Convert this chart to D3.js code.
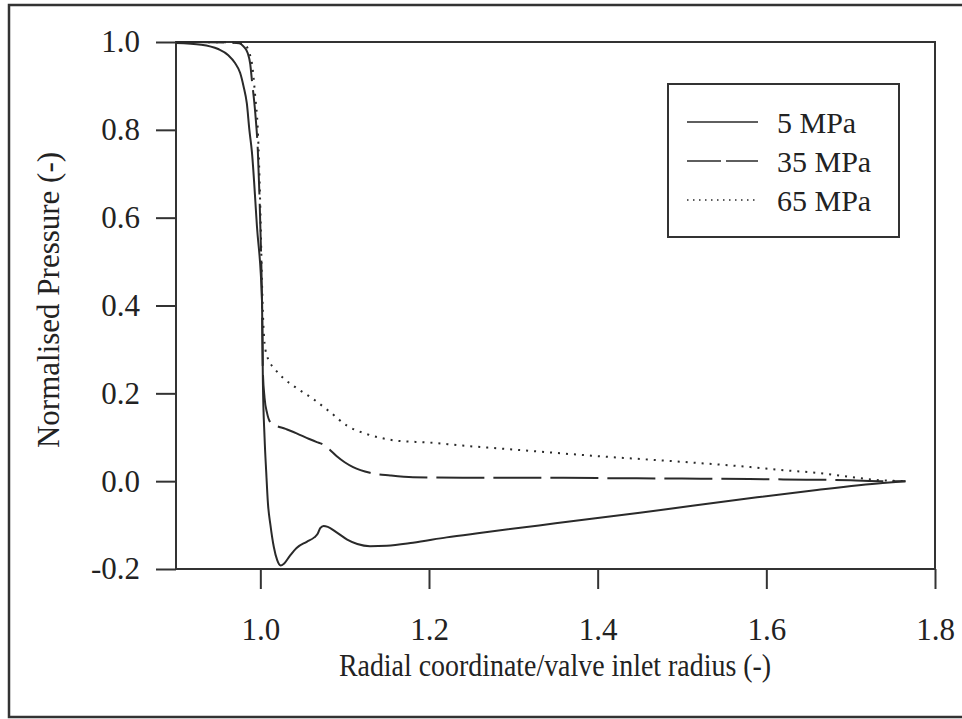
<!doctype html>
<html>
<head>
<meta charset="utf-8">
<title>Normalised pressure</title>
<script src="https://cdn.jsdelivr.net/npm/d3@7"></script>
<style>
  body { margin: 0; background: #fff; }
  svg { display: block; }
  text { font-family: "Liberation Serif", "Times New Roman", serif; fill: #222; }
  .axis line { stroke: #333; stroke-width: 2px; }
  .axis path { display: none; }
  .curve { fill: none; stroke: #2a2a2a; stroke-width: 2px; }
</style>
</head>
<body>
<script>
// x tick values and y tick values
var xTicks = [1.0, 1.2, 1.4, 1.6, 1.8];
var yTicks = [-0.2, 0.0, 0.2, 0.4, 0.6, 0.8, 1.0];
var seriesNames = ["5 MPa", "35 MPa", "65 MPa"];

// 5 MPa (solid)
var p5 = [[0.900,0.998],[0.930,0.994],[0.950,0.984],[0.962,0.970],[0.970,0.952],[0.976,0.93],[0.980,0.90],
  [0.984,0.86],[0.987,0.80],[0.990,0.75],[0.996,0.58],[1.002,0.41],[1.003,0.23],[1.005,0.10],[1.007,0.02],
  [1.009,-0.05],[1.012,-0.10],[1.016,-0.15],[1.020,-0.180],[1.024,-0.192],[1.028,-0.188],[1.035,-0.170],
  [1.043,-0.152],[1.055,-0.138],[1.064,-0.128],[1.068,-0.120],[1.071,-0.107],[1.075,-0.102],[1.080,-0.104],
  [1.090,-0.116],[1.103,-0.133],[1.115,-0.143],[1.130,-0.148],[1.150,-0.147],[1.181,-0.140],[1.221,-0.128],
  [1.260,-0.118],[1.350,-0.096],[1.450,-0.072],[1.580,-0.039],[1.660,-0.020],[1.738,-0.004],[1.765,0.0]];

// 35 MPa (dashed)
var p35 = [[0.900,1.0],[0.960,0.999],[0.975,0.997],[0.980,0.99],[0.985,0.975],[0.988,0.95],[0.990,0.913],
  [0.994,0.838],[0.997,0.754],[1.000,0.58],[1.002,0.41],[1.003,0.25],[1.005,0.19],[1.008,0.155],[1.0115,0.135],
  [1.015,0.130],[1.030,0.119],[1.043,0.109],[1.058,0.096],[1.067,0.089],[1.073,0.085],[1.082,0.072],
  [1.091,0.056],[1.100,0.043],[1.110,0.032],[1.130,0.019],[1.154,0.013],[1.181,0.009],[1.240,0.008],
  [1.300,0.008],[1.400,0.007],[1.500,0.006],[1.580,0.005],[1.620,0.004],[1.700,0.002],[1.738,0.0],[1.765,0.0]];

// 65 MPa (dotted)
var p65 = [[0.900,1.0],[0.970,0.999],[0.982,0.993],[0.987,0.975],[0.990,0.952],[0.994,0.875],[0.997,0.8],
  [1.000,0.62],[1.002,0.45],[1.004,0.34],[1.006,0.30],[1.010,0.275],[1.016,0.258],[1.027,0.235],[1.043,0.212],
  [1.062,0.188],[1.083,0.157],[1.103,0.126],[1.122,0.110],[1.142,0.099],[1.162,0.092],[1.200,0.088],
  [1.240,0.081],[1.300,0.072],[1.400,0.057],[1.500,0.044],[1.581,0.032],[1.620,0.025],[1.660,0.019],
  [1.699,0.010],[1.729,0.003],[1.765,0.0]];

var W = 962, H = 719;
var serif = "'Liberation Serif', 'Times New Roman', serif";
var margin = { top: 42, right: 27, bottom: 150, left: 176 },
    width = W - margin.left - margin.right,
    height = H - margin.top - margin.bottom;

var svg = d3.select("body").append("svg")
    .attr("width", W)
    .attr("height", H)
    .attr("font-family", serif);

// outer figure border
svg.append("rect")
    .attr("x", 9).attr("y", 5)
    .attr("width", W).attr("height", 712)
    .attr("fill", "none").attr("stroke", "#333").attr("stroke-width", 2.5);

var g = svg.append("g")
    .attr("transform", "translate(" + margin.left + "," + margin.top + ")");

var x = d3.scaleLinear().domain([0.9, 1.8]).range([0, width]);
var y = d3.scaleLinear().domain([-0.2, 1.0]).range([height, 0]);

var fmt = function(d) { return d3.format(".1f")(d).replace("\u2212", "-"); };

var xAxis = g.append("g")
    .attr("class", "x axis")
    .attr("transform", "translate(0," + height + ")")
    .call(d3.axisBottom(x).tickValues(xTicks).tickSize(20).tickSizeOuter(0).tickPadding(29).tickFormat(fmt))
    .attr("font-family", serif).attr("font-size", 31);
xAxis.selectAll("text").attr("fill", "#222");

var yAxis = g.append("g")
    .attr("class", "y axis")
    .call(d3.axisLeft(y).tickValues(yTicks).tickSize(20).tickSizeOuter(0).tickPadding(16).tickFormat(fmt))
    .attr("font-family", serif).attr("font-size", 31);
yAxis.selectAll("text").attr("fill", "#222");

// plot frame
g.append("rect")
    .attr("width", width).attr("height", height)
    .attr("fill", "none").attr("stroke", "#333").attr("stroke-width", 2);

var line = d3.line()
    .x(function(d) { return x(d[0]); })
    .y(function(d) { return y(d[1]); })
    .curve(d3.curveMonotoneX);

var dashes = [null, "48,9", "2,6"];
var widths = [2, 2, 2.2];
[p5, p35, p65].forEach(function(s, i) {
  g.append("path")
      .datum(s)
      .attr("class", "curve")
      .attr("d", line)
      .attr("stroke-width", widths[i])
      .attr("stroke-dasharray", dashes[i]);
});

// legend
var lg = svg.append("g").attr("transform", "translate(668,84)");
lg.append("rect")
    .attr("width", 231).attr("height", 153)
    .attr("fill", "#fff").attr("stroke", "#333").attr("stroke-width", 2);
var legDash = [null, "34,5", "1.5,4.5"];
seriesNames.forEach(function(name, i) {
  var yy = 38 + i * 39;
  lg.append("line")
      .attr("x1", 19).attr("x2", 90)
      .attr("y1", yy).attr("y2", yy)
      .attr("stroke", "#2a2a2a")
      .attr("stroke-width", 1.5)
      .attr("stroke-dasharray", legDash[i]);
  lg.append("text")
      .attr("x", 109).attr("y", yy)
      .attr("dy", "0.35em")
      .attr("font-size", 30)
      .text(name);
});

// axis titles (slightly condensed like the scanned original)
svg.append("text")
    .attr("transform", "translate(555,676) scale(0.9,1)")
    .attr("text-anchor", "middle")
    .attr("font-size", 31)
    .text("Radial coordinate/valve inlet radius (-)");

svg.append("text")
    .attr("transform", "translate(59,300) rotate(-90)")
    .attr("text-anchor", "middle")
    .attr("font-size", 31)
    .text("Normalised Pressure (-)");
</script>
</body>
</html>
